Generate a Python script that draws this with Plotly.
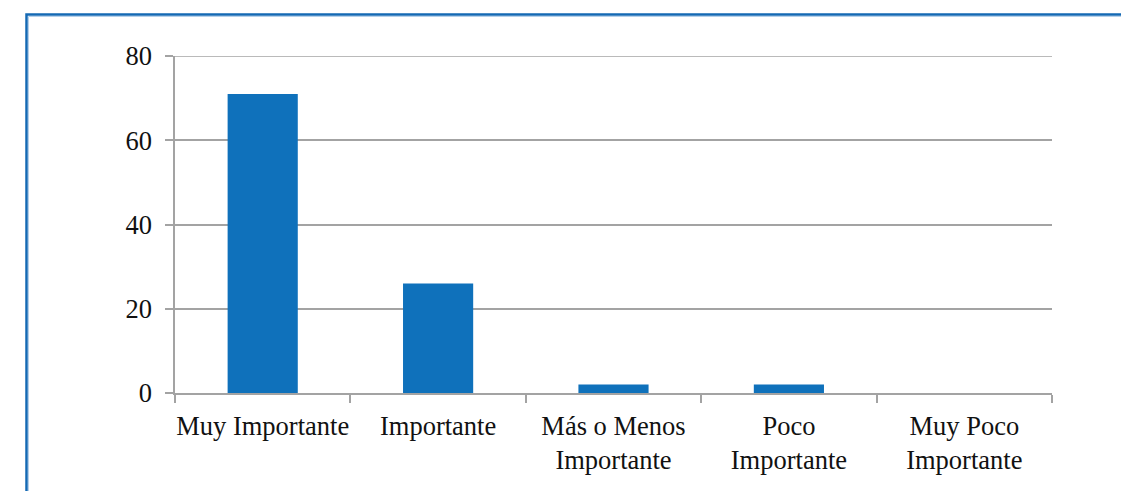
import plotly.graph_objects as go

categories = ["Muy Importante", "Importante", "Más o Menos<br>Importante",
              "Poco<br>Importante", "Muy Poco<br>Importante"]
values = [71, 26, 2, 2, 0]
y_ticks = [0, 20, 40, 60, 80]

W, H = 1121, 491
L, R, T, B = 175, 69, 56, 98
pw, ph = W - L - R, H - T - B

def px_x(p):
    return (p - L) / pw

def px_y(p):
    return (H - B - p) / ph

grid = "#a3a3a3"
font = dict(family="Liberation Serif, Times New Roman, serif", size=26.5, color="#111111")

fig = go.Figure(go.Bar(x=categories, y=values, marker=dict(color="#0f71bb", line=dict(width=0)),
                       width=0.4))

# frame around the chart area (top and left edges visible)
fig.add_shape(type="rect", xref="paper", yref="paper",
              x0=px_x(26.5), x1=px_x(1140), y0=px_y(14.5), y1=px_y(520),
              line=dict(color="#1469b4", width=2.5), layer="below")
fig.add_shape(type="rect", xref="paper", yref="paper",
              x0=px_x(28.5), x1=px_x(1140), y0=px_y(16.5), y1=px_y(520),
              line=dict(color="#b5d0ea", width=1), layer="below")

# gridline at the top of the value range
fig.add_hline(y=y_ticks[-1], line=dict(color=grid, width=1.5), layer="below")

fig.update_layout(
    width=W, height=H,
    margin=dict(l=L, r=R, t=T, b=B, pad=0, autoexpand=False),
    plot_bgcolor="white", paper_bgcolor="white",
    font=font, showlegend=False, bargap=0.6,
    xaxis=dict(showline=True, linecolor=grid, linewidth=1.5, ticks="outside",
               tickson="boundaries", ticklen=8, tickcolor=grid, tickwidth=1.5,
               showgrid=False, tickfont=font, ticklabelstandoff=8,
               tickangle=0, automargin=False),
    yaxis=dict(range=[0, 80], tickvals=y_ticks, showline=True, linecolor=grid, linewidth=1.5,
               ticks="outside", ticklen=8, tickcolor=grid, tickwidth=1.5,
               showgrid=True, gridcolor=grid, gridwidth=1.5, zeroline=False,
               tickfont=font, ticklabelstandoff=8, automargin=False),
)

fig.write_html("out.html")
